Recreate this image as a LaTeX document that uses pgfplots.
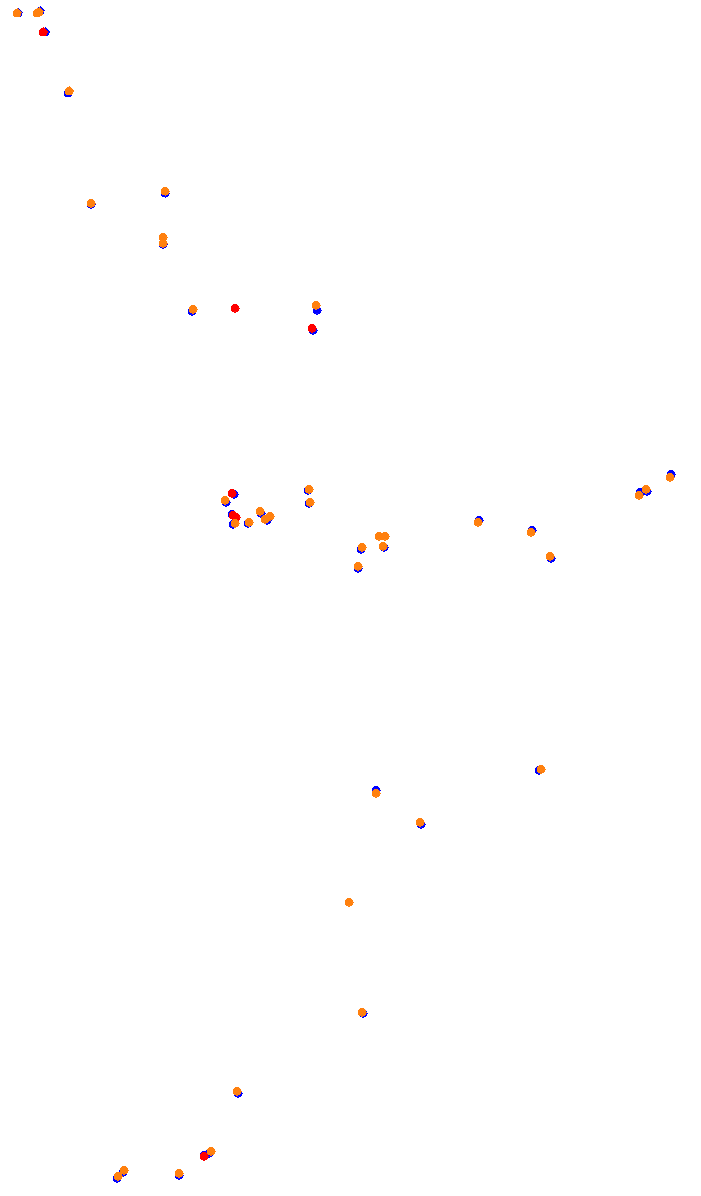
\documentclass[border=0pt]{standalone}
\usepackage{pgfplots}
\pgfplotsset{compat=1.18}
\definecolor{cblue}{RGB}{0,0,255}
\definecolor{cred}{RGB}{255,0,0}
\definecolor{corange}{RGB}{255,128,14}
\begin{document}
\begin{tikzpicture}
\begin{axis}[
  scale only axis, width=701pt, height=1196pt,
  xmin=0, xmax=701, ymin=0, ymax=1196, y dir=reverse,
  hide axis, clip=false,
]
\path (axis cs:0,0) rectangle (axis cs:701,1196);
\addplot[only marks, color=cblue, mark=*, mark size=4pt, mark options={draw=cblue, fill=cblue, line width=0pt}] coordinates {
(18,13) (40,11) (45,32) (68,93) (91,204) (165,193) (163,244) (192,311) (317,310) (313,330)
(234,494) (226,502) (232,514) (233,524) (248,523) (261,513) (267,520) (268,518) (308,490) (309,503)
(361,549) (358,568) (384,547) (479,520) (532,530) (551,558) (640,492) (647,491) (671,474)
(539,770) (376,790) (421,824) (363,1013)
(238,1093) (209,1153) (204,1155) (123,1172) (117,1178) (179,1175)
};
\addplot[only marks, color=cred, mark=*, mark size=4pt, mark options={draw=cred, fill=cred, line width=0pt}] coordinates {
(43,32) (235,308) (312,328) (232,493) (233,515) (236,517) (204,1156)
};
\addplot[only marks, color=corange, mark=*, mark size=4pt, mark options={draw=corange, fill=corange, line width=0pt}] coordinates {
(17,13) (37,13) (39,12) (69,91) (91,203) (165,191) (163,237) (163,243) (193,309) (316,305)
(225,500) (235,523) (249,522) (260,511) (265,519) (270,516) (309,489) (310,502)
(362,547) (358,566) (379,536) (385,536) (383,546) (478,522) (531,532) (550,556) (639,495) (646,489) (670,477)
(541,769) (376,793) (420,822) (349,902) (362,1012)
(237,1091) (211,1151) (124,1170) (118,1176) (179,1173)
};
\end{axis}
\end{tikzpicture}
\end{document}
